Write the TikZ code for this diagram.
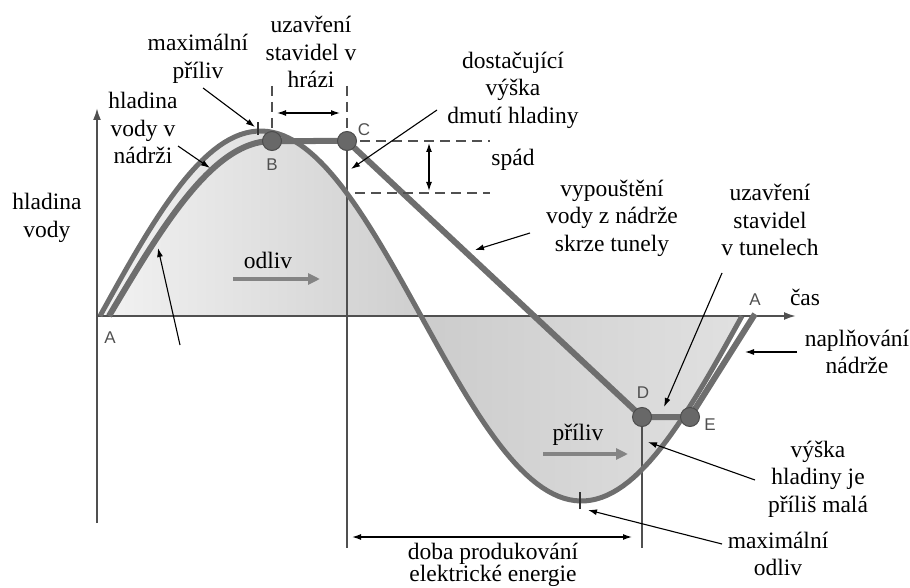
\documentclass[tikz,border=0pt]{standalone}
\usepackage{fontspec}
\setmainfont{Liberation Serif}
\newfontfamily\bodfont{Liberation Sans}
\usetikzlibrary{arrows.meta}
\definecolor{sedaKrivka}{HTML}{6E6E6E}
\definecolor{sedaOsa}{HTML}{505050}
\definecolor{sedaBod}{HTML}{686868}
\tikzset{
  popis/.style={font=\fontsize{23.5}{27.5}\selectfont, align=center, inner sep=0pt, text=black},
  pismeno/.style={font=\bodfont\fontsize{17}{17}\selectfont, text=sedaOsa, inner sep=0pt},
  sipka/.style={-{Latex[length=9pt,width=6pt]}, line width=1.1pt},
  dvojsipka/.style={{Latex[length=9pt,width=6pt]}-{Latex[length=9pt,width=6pt]}, line width=1.3pt},
  tok/.style={-{Triangle[length=12pt,width=11pt]}, line width=3.5pt, sedaKrivka!85},
  carkovane/.style={dash pattern=on 10pt off 6pt, line width=1.3pt, sedaOsa},
  kruh/.style={circle, fill=sedaBod, draw=black!70, line width=1pt, minimum size=19pt, inner sep=0pt},
}
\begin{document}
\begin{tikzpicture}[x=1pt, y=-1pt]
\useasboundingbox (0,0) rectangle (910,588);
% Body hladiny v nádrži
\coordinate (A1) at (109,316);
\coordinate (B) at (272,141);
\coordinate (C) at (347,141);
\coordinate (D) at (642,417);
\coordinate (E) at (690,417);
\coordinate (A2) at (755,314);
% Maximální příliv a odliv
\coordinate (maxP) at (258,128);
\coordinate (minO) at (580,501);
% Stínování mezi křivkou přílivu a osou
\shade[left color=gray!10, right color=gray!38] plot[domain=100:421, samples=60] (\x,{316-185*sin((\x-100)/642*360)}) -- cycle;
\shade[left color=gray!40, right color=gray!24] plot[domain=421:742, samples=60] (\x,{316-185*sin((\x-100)/642*360)}) -- cycle;
% Svislé čáry pod C a D
\draw[sedaOsa, line width=1.8pt] (C) -- (347,548);
\draw[sedaOsa, line width=1.8pt] (D) -- (642,548);
% Osy
\draw[sedaOsa, line width=2pt, -{Latex[length=12pt,width=8pt]}] (97,523) -- (97,108);
\draw[sedaOsa, line width=2pt, -{Latex[length=12pt,width=8pt]}] (97,316) -- (796,316);
% Křivka přílivu a odlivu
\draw[sedaKrivka, line width=5pt] plot[domain=100:742, samples=120] (\x,{316-185*sin((\x-100)/642*360)});
% Hladina v nádrži A-B-C-D-E-A
\draw[sedaKrivka, line width=6pt, line join=round] plot[domain=109:272, samples=60] (\x,{316-175*sin((\x-109)/163*90)}) -- (C) -- (D) -- (E) -- (A2);
\foreach \b in {B,C,D,E} {
\node[kruh] (k\b) at (\b) {};
}
% Písmena bodů
\node[pismeno] (lA1) at (110,338) {A};
\node[pismeno] (lB) at (272,165) {B};
\node[pismeno] (lC) at (364,130) {C};
\node[pismeno] (lD) at (643,393) {D};
\node[pismeno] (lE) at (710,425) {E};
\node[pismeno] (lA2) at (755,300) {A};
% Značky maxima a minima
\draw[black!80, line width=1.2pt] ([yshift=-7pt]maxP) -- ([yshift=6pt]maxP);
\draw[black!80, line width=1.2pt] ([yshift=-8pt]minO) -- ([yshift=9pt]minO);
% Čárkované čáry a rozměry
\draw[carkovane] (272,86) -- (272,128);
\draw[carkovane] (347,86) -- (347,128);
\draw[carkovane] (360,141) -- (490,141);
\draw[carkovane] (355,193) -- (490,193);
\coordinate (hrazL) at (277,113);
\coordinate (hrazP) at (340,113);
\coordinate (spadH) at (429,143);
\coordinate (spadD) at (429,191);
\coordinate (dobaL) at (352,537);
\coordinate (dobaP) at (632,537);
\draw[dvojsipka] (hrazL) -- (hrazP);
\draw[dvojsipka] (spadH) -- (spadD);
\draw[dvojsipka] (dobaL) -- (dobaP);
% Popisy
\node[popis] (hlVody) at (47,218) {hladina\\vody};
\node[popis] (hlNadrz) at (143,128) {hladina\\vody v\\nádrži};
\node[popis] (maxPrl) at (198,59) {maximální\\příliv};
\node[popis] (uzHraz) at (311,52) {uzavření\\stavidel v\\hrázi};
\node[popis] (dostTxt) at (513,90) {dostačující\\výška\\dmutí hladiny};
\node[popis] (spadTxt) at (513,160) {spád};
\node[popis] (vypTxt) at (612,218) {vypouštění\\vody z nádrže\\skrze tunely};
\node[popis] (uzTun) at (770,220) {uzavření\\stavidel\\v tunelech};
\node[popis] (casTxt) at (805,297) {čas};
\node[popis] (naplTxt) at (857,352) {naplňování\\nádrže};
\node[popis] (odlivTxt) at (268,260) {odliv};
\node[popis] (prilivTxt) at (578,435) {příliv};
\node[popis] (vyskaTxt) at (818,479) {výška\\hladiny je\\příliš malá};
\node[popis] (maxOdl) at (778,554) {maximální\\odliv};
\node[popis, font=\fontsize{23.5}{21}\selectfont, anchor=south] (dobaTxt) at (493,587) {doba produkování\\elektrické energie};
% Směr proudění
\coordinate (odlivZ) at (233,279);
\coordinate (odlivK) at (320,279);
\coordinate (prilivZ) at (543,454);
\coordinate (prilivK) at (628,454);
\draw[tok] (odlivZ) -- (odlivK);
\draw[tok] (prilivZ) -- (prilivK);
% Odkazové šipky
\coordinate (hlNadrzZ) at (178,146);
\coordinate (hlNadrzK) at (210,168);
\coordinate (prilivCZ) at (180,345);
\coordinate (prilivCK) at (158,248);
\coordinate (maxPZ) at (203,88);
\coordinate (maxPK) at (255,127);
\coordinate (dostZ) at (437,110);
\coordinate (dostK) at (351,169);
\coordinate (vypZ) at (530,233);
\coordinate (vypK) at (475,250);
\coordinate (uzTunZ) at (722,273);
\coordinate (uzTunK) at (664,407);
\coordinate (naplZ) at (797,352);
\coordinate (naplK) at (745,352);
\coordinate (vyskaZ) at (755,480);
\coordinate (vyskaK) at (648,442);
\coordinate (maxOZ) at (722,544);
\coordinate (maxOK) at (588,510);
\draw[sipka] (hlNadrzZ) -- (hlNadrzK);
\draw[sipka] (prilivCZ) -- (prilivCK);
\draw[sipka] (maxPZ) -- (maxPK);
\draw[sipka] (dostZ) -- (dostK);
\draw[sipka] (vypZ) -- (vypK);
\draw[sipka] (uzTunZ) -- (uzTunK);
\draw[sipka] (naplZ) -- (naplK);
\draw[sipka] (vyskaZ) -- (vyskaK);
\draw[sipka] (maxOZ) -- (maxOK);
\end{tikzpicture}
\end{document}
